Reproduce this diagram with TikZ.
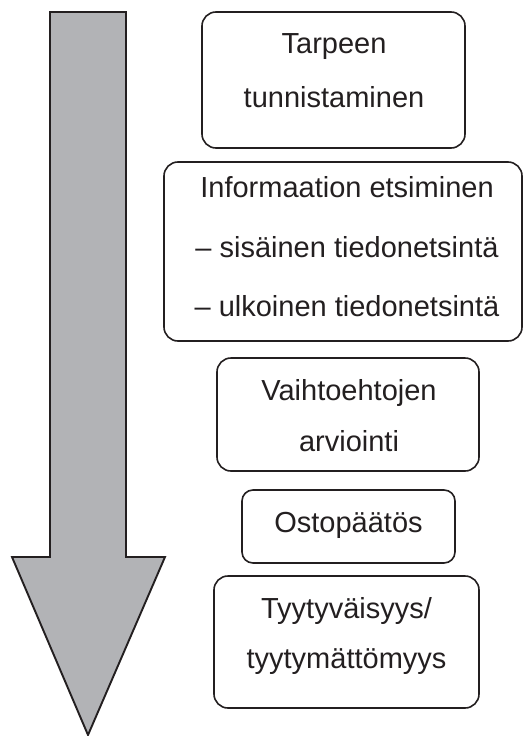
\documentclass[tikz,border=0pt]{standalone}
\usepackage{fontspec}
\setmainfont{Liberation Sans}
\definecolor{ink}{HTML}{231F20}
\definecolor{arrowgray}{HTML}{B2B3B6}
\begin{document}
\begin{tikzpicture}[x=1pt,y=-1pt,
  box/.style={draw=ink, line width=1.6pt, rounded corners=14pt, inner sep=0pt},
  txt/.style={anchor=base, text=ink, font=\fontsize{29}{34}\selectfont, inner sep=0pt},
  bigarrow/.style={fill=arrowgray, draw=ink, line width=1.9pt, line join=miter}]
\useasboundingbox (0,0) rectangle (523,736);
% big downward arrow
\draw[bigarrow] (50,12) -- (126,12) -- (126,557) -- (165,557) -- (88,735) -- (12,557) -- (50,557) -- cycle;
% boxes
\node[box, minimum width=263pt, minimum height=136pt] (b1) at (333.5,80) {};
\node[box, minimum width=358pt, minimum height=179pt] (b2) at (343,251.5) {};
\node[box, minimum width=262pt, minimum height=113pt] (b3) at (348,414.5) {};
\node[box, minimum width=213pt, minimum height=73pt, rounded corners=11pt] (b4) at (348.5,526.5) {};
\node[box, minimum width=265pt, minimum height=132pt] (b5) at (346.5,642) {};
% texts
\node[txt] (t1a) at (334,53) {Tarpeen};
\node[txt] (t1b) at (334,107) {tunnistaminen};
\node[txt] (t2a) at (347,197) {Informaation etsiminen};
\node[txt] (t2b) at (347,257) {– sisäinen tiedonetsintä};
\node[txt] (t2c) at (347,316) {– ulkoinen tiedonetsintä};
\node[txt] (t3a) at (349,400) {Vaihtoehtojen};
\node[txt] (t3b) at (349,451) {arviointi};
\node[txt] (t4) at (348.5,532) {Ostopäätös};
\node[txt] (t5a) at (346.5,618) {Tyytyväisyys/};
\node[txt] (t5b) at (346.5,668) {tyytymättömyys};
\end{tikzpicture}
\end{document}
